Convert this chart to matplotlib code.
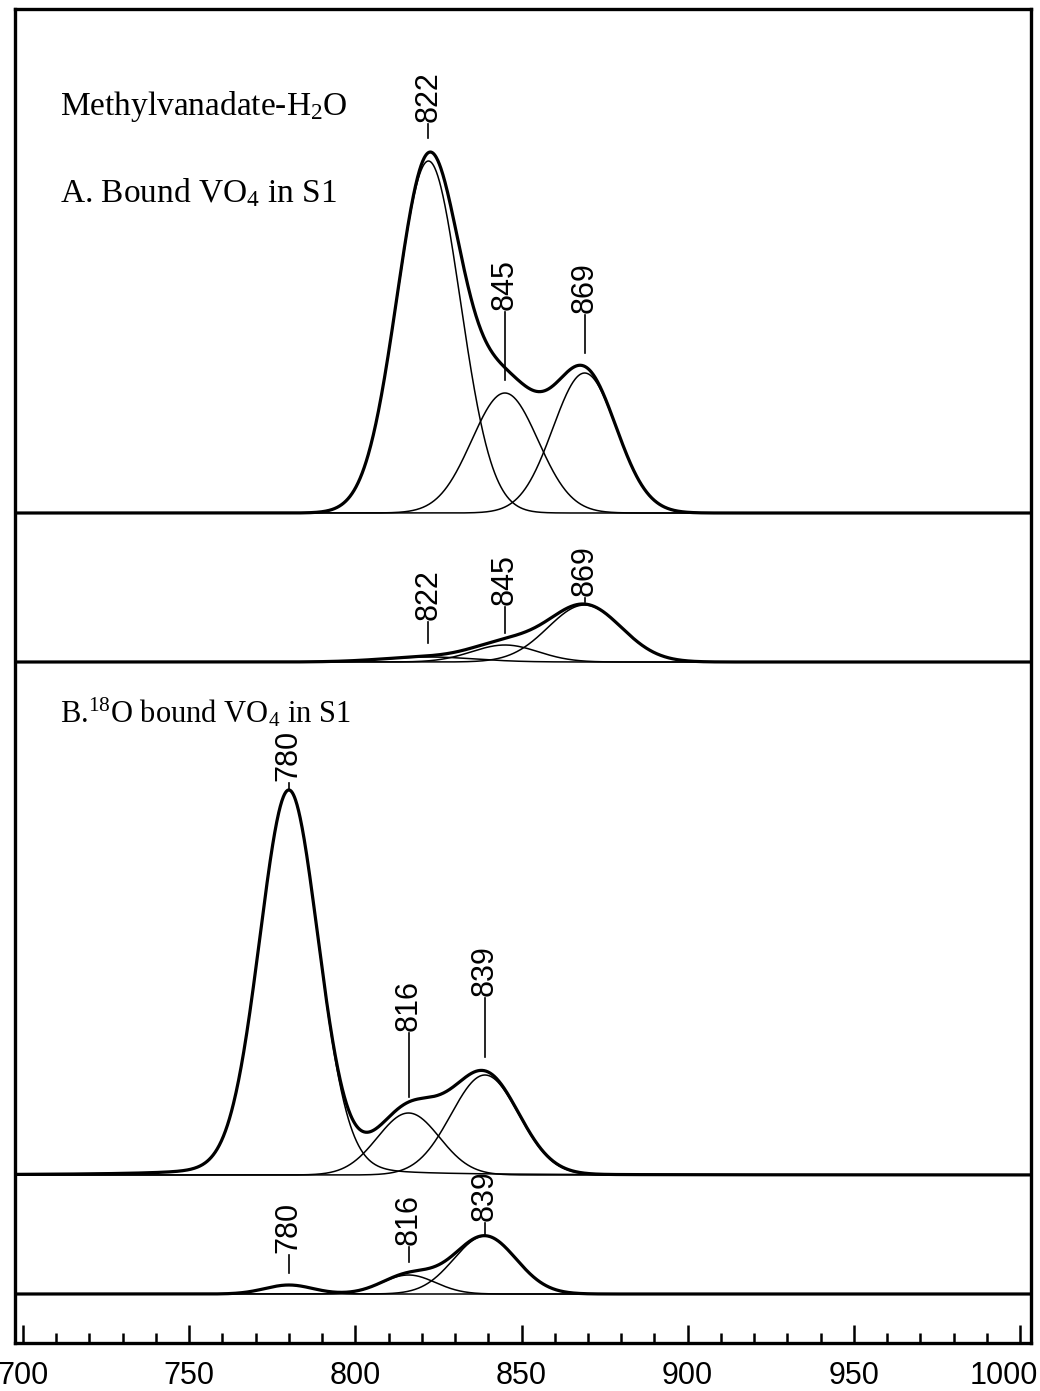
import numpy as np
import matplotlib.pyplot as plt
import matplotlib.transforms as mtransforms
from matplotlib.ticker import MultipleLocator

plt.rcParams['font.family'] = ['Liberation Sans', 'DejaVu Sans']
plt.rcParams['mathtext.default'] = 'regular'

# band parameters (position cm-1, height, fwhm, lorentz fraction)
a_pos = [822, 845, 869]
a_height = [352, 120, 140]
a_fwhm = [22.5, 23.5, 22.5]
a_eta = [0.0, 0.0, 0.0]

ar_pos = [822, 845, 869]
ar_height = [5, 17, 57]
ar_fwhm = [33, 23.5, 26]
ar_eta = [0.0, 0.0, 0.0]

b_pos = [780, 816, 839]
b_height = [385, 62, 100]
b_fwhm = [21, 22, 24]
b_eta = [0.1, 0.0, 0.0]

br_pos = [780, 816, 839]
br_height = [9, 19, 58]
br_fwhm = [17, 19, 22]
br_eta = [0.0, 0.0, 0.0]

# vertical offsets of each trace (axes units = image pixels)
a_base, ar_base, b_base, br_base = 830, 681, 168, 49

# label layout: (line bottom, line top) above each band
a_lab = [(1205, 1219), (963, 1031), (990, 1028)]
ar_lab = [(700, 721), (710, 736), (741, 745)]
b_lab = [(553, 560), (246, 310), (286, 345)]
br_lab = [(70, 88), (81, 96), (108, 120)]


def band(x, pos, h, fwhm, eta):
    d = (x - pos) / (fwhm / 2.0)
    return h * (eta / (1 + d ** 2) + (1 - eta) * np.exp(-np.log(2) * d ** 2))


fig = plt.figure(figsize=(10.4, 13.91), dpi=100)
ax = fig.add_axes([15 / 1040, 48 / 1391, 1016 / 1040, 1334 / 1391])
xmin, xmax = 697.6, 1003.3
x = np.linspace(xmin, xmax, 2000)

panels = [
    (a_base, a_pos, a_height, a_fwhm, a_eta, a_lab),
    (ar_base, ar_pos, ar_height, ar_fwhm, ar_eta, ar_lab),
    (b_base, b_pos, b_height, b_fwhm, b_eta, b_lab),
    (br_base, br_pos, br_height, br_fwhm, br_eta, br_lab),
]

for base, pos, height, fwhm, eta, lab in panels:
    total = np.zeros_like(x)
    for p, h, w, e in zip(pos, height, fwhm, eta):
        comp = band(x, p, h, w, e)
        total += comp
        ax.plot(x, base + comp, color='black', lw=1.1)
    ax.plot(x, base + total, color='black', lw=2.3)
    for p, (y0, y1) in zip(pos, lab):
        ax.plot([p, p], [y0, y1], color='black', lw=1.2)
        ax.text(p, y1 + 2, str(p), rotation=90, ha='center', va='bottom',
                fontsize=22)

serif = ['Liberation Serif', 'DejaVu Serif']
tx = ax.get_yaxis_transform()
ax.text(0.044, 1236, 'Methylvanadate-H$_2$O', family=serif, fontsize=24,
        va='center', transform=tx)
ax.text(0.044, 1150, 'A. Bound VO$_4$ in S1', family=serif, fontsize=24,
        va='center', transform=tx)
ax.text(0.044, 630, 'B.$^{18}$O bound VO$_4$ in S1', family=serif, fontsize=22,
        va='center', transform=tx)

ax.set_xlim(xmin, xmax)
ax.set_ylim(0, 1334)
ax.set_yticks([])
ax.set_xticks(np.arange(700, 1001, 50))
ax.xaxis.set_minor_locator(MultipleLocator(10))
ax.tick_params(axis='x', which='major', direction='in', length=13, width=1.8,
               pad=13, labelsize=22)
ax.tick_params(axis='x', which='minor', direction='in', length=7, width=1.8)
for s in ax.spines.values():
    s.set_linewidth(2.4)

# last label sits slightly inside the frame in the original
last = ax.get_xticklabels()[-1]
last.set_transform(last.get_transform() +
                   mtransforms.ScaledTranslation(-16 / 100, 0, fig.dpi_scale_trans))

fig.savefig('out.png', dpi=100)
